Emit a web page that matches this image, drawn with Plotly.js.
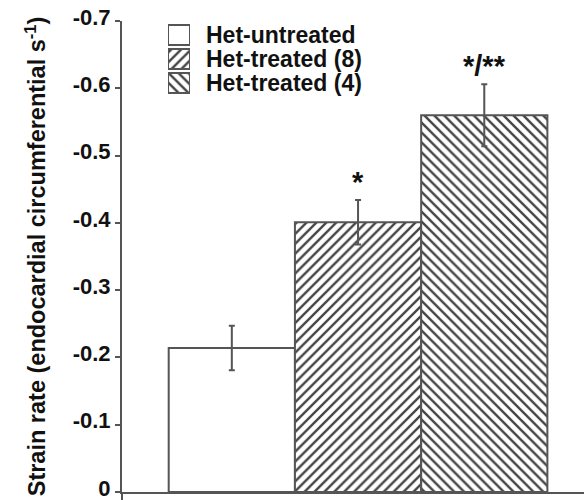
<!DOCTYPE html>
<html>
<head>
<meta charset="utf-8">
<script src="https://cdn.plot.ly/plotly-3.0.1.min.js"></script>
<style>
  html, body { margin: 0; padding: 0; background: #fff; }
  #chart { width: 584px; height: 500px; }
</style>
</head>
<body>
<div id="chart"></div>
<script>
// ---- data ----
const groups = ['Het-untreated', 'Het-treated (8)', 'Het-treated (4)'];
const strainRate = [-0.214, -0.401, -0.560];
const sem = [0.033, 0.033, 0.046];
const sigLabels = ['', '*', '*/**'];
const hatch = ['', '/', '\\'];
const yTickVals = [0, -0.1, -0.2, -0.3, -0.4, -0.5, -0.6, -0.7];
const yTickText = ['0', '-0.1', '-0.2', '-0.3', '-0.4', '-0.5', '-0.6', '-0.7'];
const yTitle = 'Strain rate (endocardial circumferential s<sup>-1</sup>)';

// ---- style ----
const FONT = 'Liberation Sans, Arial, Helvetica, sans-serif';
const AX = '#555';
const INK = '#111';
const HATCH = '#444';

const patternSpec = {
  shape: hatch,
  fgcolor: HATCH,
  bgcolor: '#ffffff',
  size: 7,
  solidity: 0.34,
  fillmode: 'replace'
};

const bars = {
  type: 'bar',
  x: groups,
  y: strainRate,
  width: 1,
  marker: {
    color: '#ffffff',
    line: { color: AX, width: 2 },
    pattern: patternSpec
  },
  error_y: {
    type: 'data',
    array: sem,
    visible: true,
    color: AX,
    thickness: 2,
    width: 3
  },
  showlegend: false,
  hoverinfo: 'skip'
};

// hand-made legend keys (bigger boxes, like the reference)
const legendKeys = {
  type: 'bar',
  orientation: 'h',
  x: groups.map(() => 1),
  y: groups,
  width: 0.833,
  xaxis: 'x2',
  yaxis: 'y2',
  marker: {
    color: '#ffffff',
    line: { color: AX, width: 2 },
    pattern: patternSpec
  },
  showlegend: false,
  hoverinfo: 'skip'
};

const annotations = [];
groups.forEach((g, i) => {
  // legend labels
  annotations.push({
    xref: 'paper', yref: 'y2',
    x: 0.178, y: g,
    xanchor: 'left', yanchor: 'middle',
    text: g, showarrow: false,
    font: { family: FONT, size: 23, color: INK, weight: 'bold' }
  });
  // significance marks
  if (sigLabels[i]) {
    annotations.push({
      xref: 'x', yref: 'y',
      x: g, y: strainRate[i] - sem[i],
      xanchor: 'center', yanchor: 'bottom',
      yshift: 0,
      text: sigLabels[i], showarrow: false,
      font: { family: FONT, size: 29, color: INK, weight: 'bold' }
    });
  }
});

const layout = {
  width: 584,
  height: 500,
  margin: { l: 122, r: 0, t: 21, b: 8, pad: 0 },
  paper_bgcolor: '#ffffff',
  plot_bgcolor: '#ffffff',
  bargap: 0,
  showlegend: false,
  font: { family: FONT, color: INK },
  xaxis: {
    type: 'category',
    range: [-0.87, 2.79],
    showline: true, linecolor: AX, linewidth: 2,
    ticks: '', showticklabels: false,
    showgrid: false, zeroline: false, fixedrange: true
  },
  yaxis: {
    range: [0, -0.7],
    tickvals: yTickVals,
    ticktext: yTickText,
    ticklabeloverflow: 'allow',
    ticklabelshift: 4,
    ticks: 'outside', ticklen: 5, tickwidth: 2, tickcolor: AX,
    tickfont: { family: FONT, size: 22, color: INK, weight: 'bold' },
    showline: true, linecolor: AX, linewidth: 2,
    showgrid: false, zeroline: false, fixedrange: true,
    title: {
      text: yTitle,
      standoff: 20,
      font: { family: FONT, size: 23.5, color: INK, weight: 'bold' }
    }
  },
  xaxis2: {
    domain: [0.0996, 0.1472], range: [0, 1],
    visible: false, anchor: 'y2', fixedrange: true
  },
  yaxis2: {
    domain: [0.8429, 0.9958], range: [2.5, -0.5], type: 'category',
    visible: false, anchor: 'x2', fixedrange: true
  },
  shapes: [
    { type: 'line', xref: 'paper', yref: 'paper', x0: 0, x1: 0, y0: 0, y1: -0.02,
      line: { color: AX, width: 2 } }
  ],
  annotations: annotations
};

Plotly.newPlot('chart', [bars, legendKeys], layout, { displayModeBar: false, staticPlot: true });
</script>
</body>
</html>
